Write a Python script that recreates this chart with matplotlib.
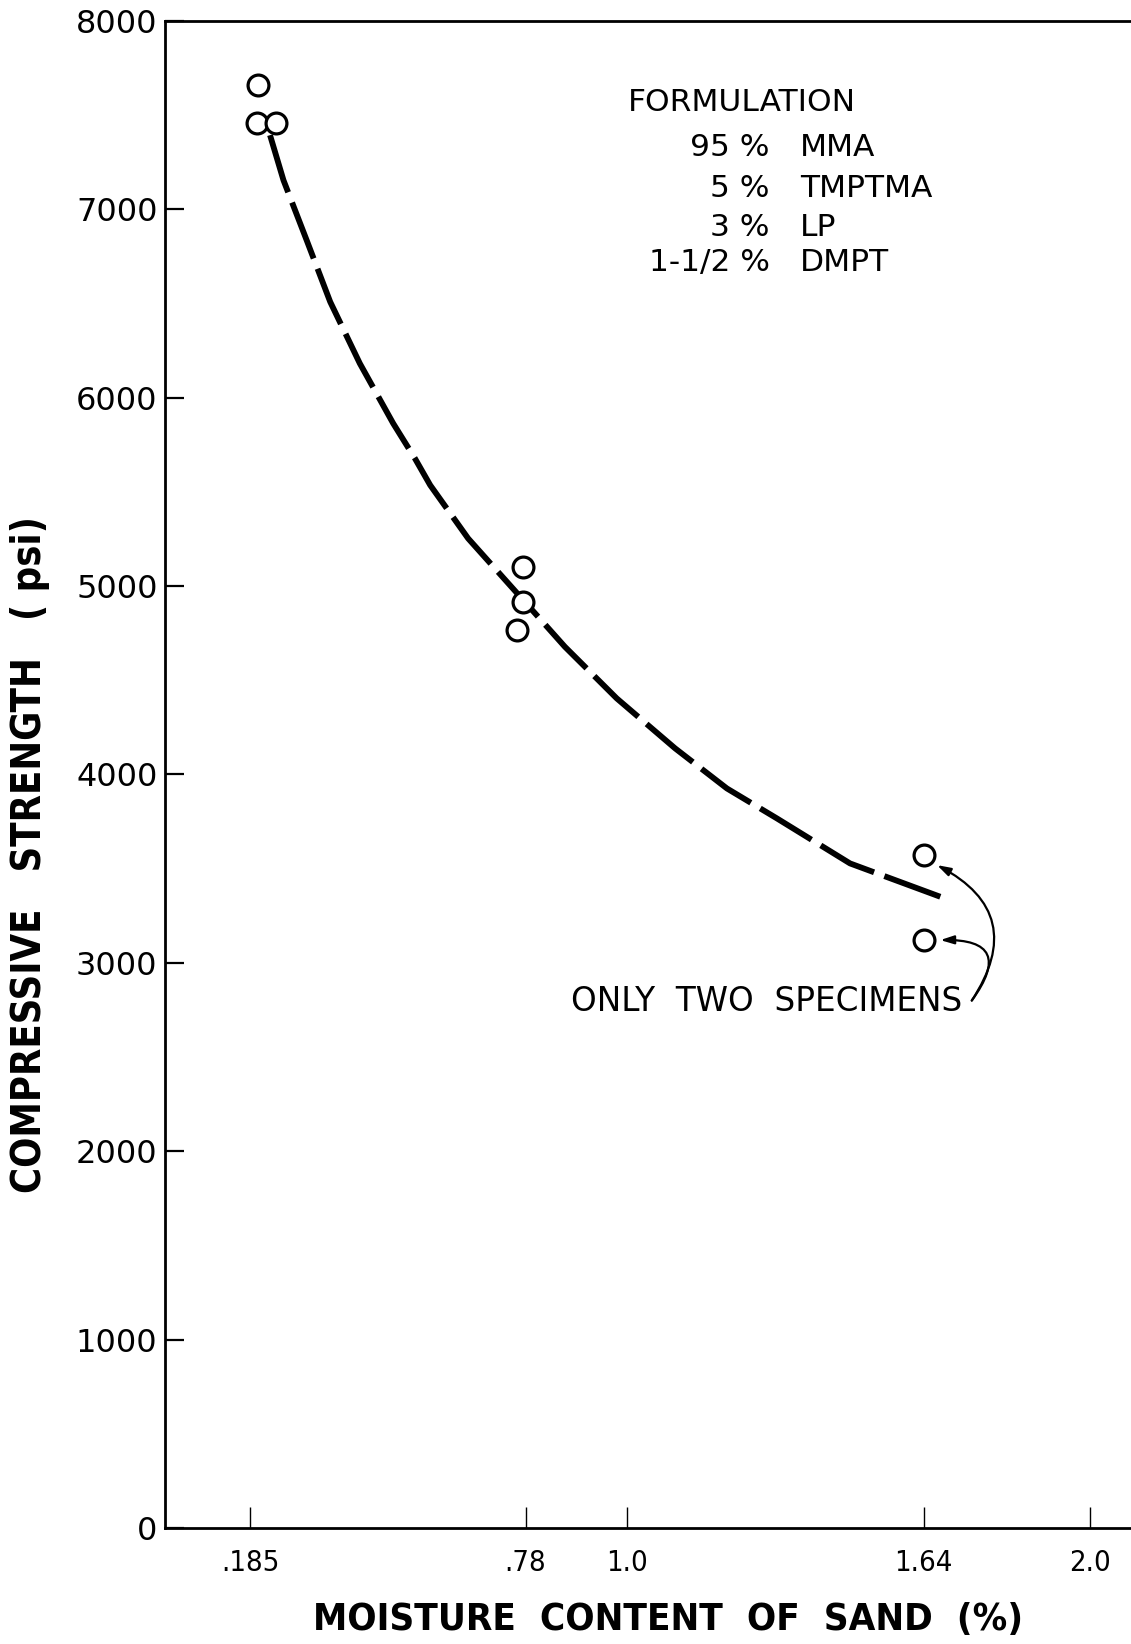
import matplotlib
matplotlib.use("Agg")
import matplotlib.pyplot as plt

# ---- data ----
moisture_pts = [0.203, 0.199, 0.241, 0.775, 0.775, 0.761, 1.640, 1.640]
strength_pts = [7659, 7456, 7456, 5102, 4917, 4766, 3572, 3121]

fit_x = [0.228, 0.257, 0.307, 0.358, 0.422, 0.494, 0.541, 0.574, 0.656, 0.775,
         0.865, 0.977, 1.103, 1.215, 1.323, 1.481, 1.676]
fit_y = [7394, 7155, 6837, 6509, 6182, 5864, 5678, 5536, 5253, 4926,
         4678, 4404, 4139, 3926, 3767, 3528, 3351]

x_ticks = [0.185, 0.78, 1.0, 1.64, 2.0]
x_tick_labels = [".185", ".78", "1.0", "1.64", "2.0"]
y_ticks = [0, 1000, 2000, 3000, 4000, 5000, 6000, 7000, 8000]

formulation_pct = ["95 %", "5 %", "3 %", "1-1/2 %"]
formulation_comp = ["MMA", "TMPTMA", "LP", "DMPT"]

W, H = 1131, 1644
fig = plt.figure(figsize=(W / 100, H / 100), dpi=100)
left, top, bottom = 164.5, 21, 1528
ax = fig.add_axes([left / W, 1 - bottom / H, (W - left) / W, (bottom - top) / H])

ax.set_xlim(0, 2.088)
ax.set_ylim(0, 8000)

plain = ['DejaVu Sans']

# fitted curve
line, = ax.plot(fit_x, fit_y, color='black', lw=4.2, zorder=2,
                solid_capstyle='butt')
line.set_dashes((60 / 4.2 / 1.39, 11 / 4.2 / 1.39))

# data points
ax.plot(moisture_pts, strength_pts, 'o', ms=15, mfc='white', mec='black',
        mew=2.3, zorder=3, linestyle='none')

# spines and ticks
for s in ['left', 'bottom', 'top']:
    ax.spines[s].set_linewidth(2)
ax.spines['right'].set_visible(False)

ax.set_yticks(y_ticks)
ax.set_yticklabels([str(v) for v in y_ticks], family=plain, fontsize=23)
ax.set_xticks(x_ticks)
ax.set_xticklabels(x_tick_labels, family=plain, fontstretch='condensed',
                   fontsize=21)
ax.tick_params(axis='y', direction='in', length=14, width=1.6, pad=5)
ax.tick_params(axis='x', direction='in', length=15, width=1.0, pad=15)

ax.set_xlabel("MOISTURE  CONTENT  OF  SAND  (%)", family=plain,
              fontstretch='condensed', fontsize=27.6, fontweight='bold',
              labelpad=18)
ax.xaxis.label.set_x(0.521)
fig.text(30 / W, 1 - 855 / H, "COMPRESSIVE   STRENGTH   ( psi)",
         rotation=90, ha='center', va='center', family=plain,
         fontstretch='condensed', fontsize=28.5, fontweight='bold')

# formulation block
ax.text(1.0015, 7569, "FORMULATION", family=plain, fontsize=22.5,
        ha='left', va='center')
row_y = [7330, 7113, 6906, 6720]
for pct, comp, yy in zip(formulation_pct, formulation_comp, row_y):
    ax.text(1.308, yy, pct, family=plain, fontsize=22.5, ha='right', va='center')
    ax.text(1.373, yy, comp, family=plain, fontsize=22.5, ha='left', va='center')

# annotation
ax.text(0.878, 2797, "ONLY  TWO  SPECIMENS", family=plain, fontsize=23.5,
        ha='left', va='center')
start = (1.744, 2800)
ax.annotate("", xy=(1.669, 3519), xytext=start,
            arrowprops=dict(arrowstyle='-|>,head_length=0.8,head_width=0.25',
                            connectionstyle='arc3,rad=0.55', lw=1.6,
                            color='black', shrinkA=0, shrinkB=0))
ax.annotate("", xy=(1.676, 3121), xytext=start,
            arrowprops=dict(arrowstyle='-|>,head_length=0.8,head_width=0.25',
                            connectionstyle='arc3,rad=1.0', lw=1.6,
                            color='black', shrinkA=0, shrinkB=0))

fig.savefig("out.png", dpi=100)
